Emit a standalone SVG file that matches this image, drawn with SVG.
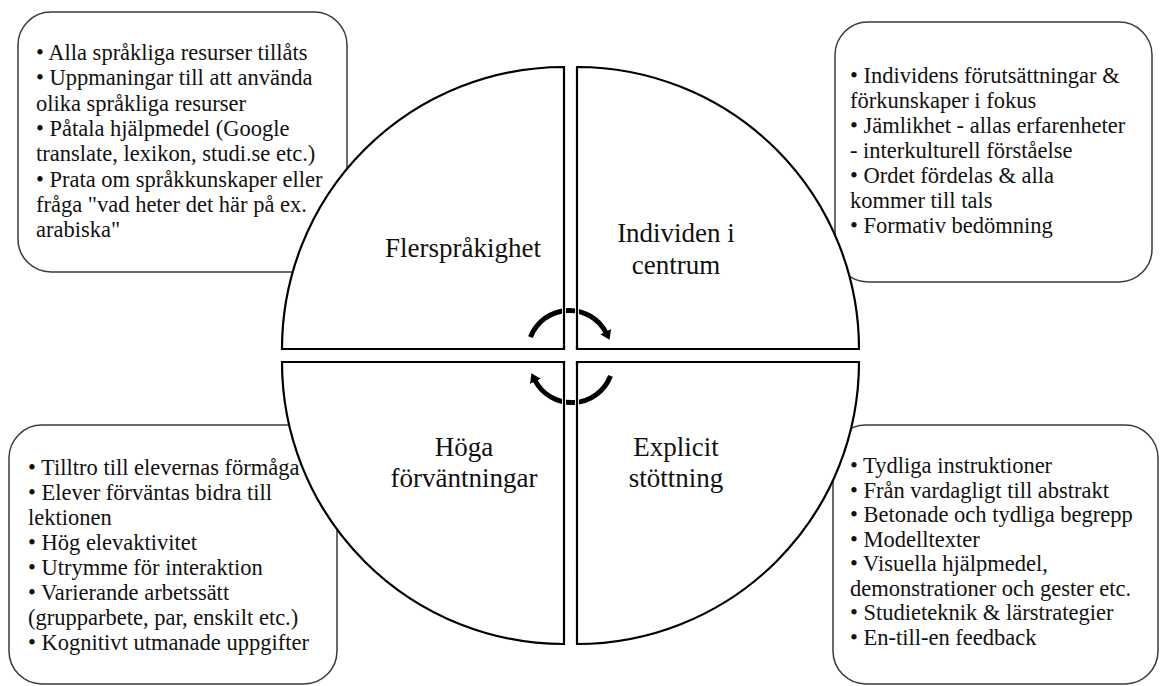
<svg xmlns="http://www.w3.org/2000/svg" width="1161" height="686" viewBox="0 0 1161 686">
<defs>
<style>
.box{fill:#fff;stroke:#3a3a3a;stroke-width:1.5}
.quad{fill:#fff;stroke:#000;stroke-width:2.2}
.qline{fill:none;stroke:#000;stroke-width:2.2}
.halo{fill:none;stroke:#fff;stroke-width:4}
.bt{font-family:"Liberation Serif","Times New Roman",serif;font-size:22.5px;fill:#111}
.lbl{font-family:"Liberation Serif","Times New Roman",serif;font-size:27px;fill:#111;text-anchor:middle}
.arc{fill:none;stroke:#000;stroke-width:5}
</style>
<marker id="ah" markerUnits="userSpaceOnUse" markerWidth="12" markerHeight="12" refX="2" refY="6" orient="auto">
<path d="M0,0 L9,6 L0,12 Z" fill="#000"/>
</marker>
</defs>
<g id="box-flersprakighet">
<rect class="box" x="18" y="12" width="329" height="260" rx="33"/>
<text class="bt" x="36" y="60">
<tspan x="36" y="60">• Alla språkliga resurser tillåts</tspan>
<tspan x="36" y="85.3">• Uppmaningar till att använda</tspan>
<tspan x="36" y="110.6">olika språkliga resurser</tspan>
<tspan x="36" y="135.9">• Påtala hjälpmedel (Google</tspan>
<tspan x="36" y="161.2">translate, lexikon, studi.se etc.)</tspan>
<tspan x="36" y="186.5">• Prata om språkkunskaper eller</tspan>
<tspan x="36" y="211.8">fråga "vad heter det här på ex.</tspan>
<tspan x="36" y="237.1">arabiska"</tspan>
</text>
</g>
<g id="box-individen">
<rect class="box" x="835" y="22" width="317" height="260" rx="33"/>
<text class="bt" x="850" y="83">
<tspan x="850" y="83">• Individens förutsättningar &amp;</tspan>
<tspan x="850" y="108">förkunskaper i fokus</tspan>
<tspan x="850" y="133">• Jämlikhet - allas erfarenheter</tspan>
<tspan x="850" y="158">- interkulturell förståelse</tspan>
<tspan x="850" y="183">• Ordet fördelas &amp; alla</tspan>
<tspan x="850" y="208">kommer till tals</tspan>
<tspan x="850" y="233">• Formativ bedömning</tspan>
</text>
</g>
<g id="box-hoga">
<rect class="box" x="9" y="425" width="328" height="259" rx="33"/>
<text class="bt" x="28" y="475">
<tspan x="28" y="475">• Tilltro till elevernas förmåga</tspan>
<tspan x="28" y="500">• Elever förväntas bidra till</tspan>
<tspan x="28" y="525">lektionen</tspan>
<tspan x="28" y="550">• Hög elevaktivitet</tspan>
<tspan x="28" y="575">• Utrymme för interaktion</tspan>
<tspan x="28" y="600">• Varierande arbetssätt</tspan>
<tspan x="28" y="625">(grupparbete, par, enskilt etc.)</tspan>
<tspan x="28" y="650">• Kognitivt utmanade uppgifter</tspan>
</text>
</g>
<g id="box-explicit">
<rect class="box" x="833" y="425" width="325" height="259" rx="33"/>
<text class="bt" x="850" y="473">
<tspan x="850" y="473">• Tydliga instruktioner</tspan>
<tspan x="850" y="497.5">• Från vardagligt till abstrakt</tspan>
<tspan x="850" y="522">• Betonade och tydliga begrepp</tspan>
<tspan x="850" y="546.5">• Modelltexter</tspan>
<tspan x="850" y="571">• Visuella hjälpmedel,</tspan>
<tspan x="850" y="595.5">demonstrationer och gester etc.</tspan>
<tspan x="850" y="620">• Studieteknik &amp; lärstrategier</tspan>
<tspan x="850" y="644.5">• En-till-en feedback</tspan>
</text>
</g>
<g id="q-flersprakighet">
<path class="quad" d="M564,349 L564,67 A282,282 0 0 0 282,349 Z"/>
<text class="lbl" x="463" y="257">Flerspråkighet</text>
</g>
<g id="q-individen">
<path class="quad" d="M577,349 L577,67 A282,282 0 0 1 859,349 Z"/>
<text class="lbl" x="676" y="242"><tspan x="676" y="242">Individen i</tspan><tspan x="676" y="274">centrum</tspan></text>
</g>
<g id="q-hoga">
<path class="quad" d="M564,362 L564,644 A282,282 0 0 1 282,362 Z"/>
<text class="lbl" x="464" y="456"><tspan x="464" y="456">Höga</tspan><tspan x="464" y="487">förväntningar</tspan></text>
</g>
<g id="q-explicit">
<path class="quad" d="M577,362 L859,362 A282,282 0 0 1 577,644 Z"/>
<text class="lbl" x="676" y="456"><tspan x="676" y="456">Explicit</tspan><tspan x="676" y="487">stöttning</tspan></text>
</g>
<g id="connectors">
<path class="arc" d="M530.5,337.2 A41.5,41.5 0 0 1 606.5,333.5" marker-end="url(#ah)"/>
<path class="arc" d="M610.5,375.8 A41.5,41.5 0 0 1 534.5,379.5" marker-end="url(#ah)"/>
<path class="halo" d="M564,300 L564,346 M577,300 L577,346 M564,365 L564,420 M577,365 L577,420"/>
<path class="qline" d="M564,300 L564,349 M577,300 L577,349 M564,362 L564,420 M577,362 L577,420"/>
</g>
</svg>
